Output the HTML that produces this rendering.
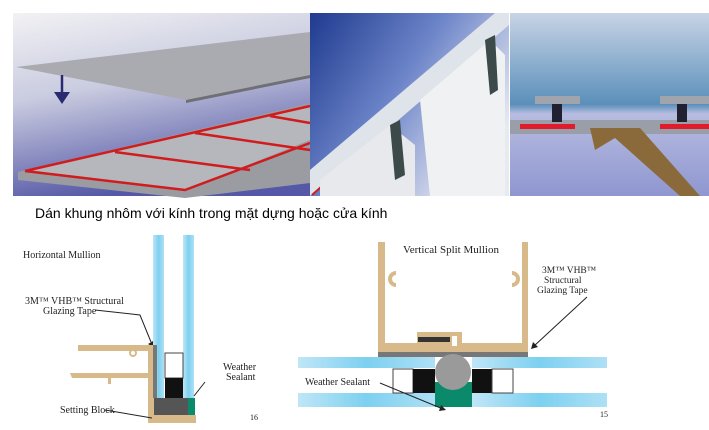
<!DOCTYPE html>
<html><head><meta charset="utf-8"><style>
body{margin:0;background:#fff;width:709px;height:425px;overflow:hidden;font-family:"Liberation Serif",serif}
</style></head><body>
<svg width="709" height="425" viewBox="0 0 709 425" xmlns="http://www.w3.org/2000/svg">
<defs>
<linearGradient id="bg1" x1="0" y1="0" x2="0.3" y2="1"><stop offset="0" stop-color="#f2f2f4"/><stop offset="0.45" stop-color="#c9cbe0"/><stop offset="1" stop-color="#5558a6"/></linearGradient>
<linearGradient id="bg2" x1="0" y1="0" x2="1" y2="0.6"><stop offset="0" stop-color="#1f3a8f"/><stop offset="0.5" stop-color="#6c84c8"/><stop offset="1" stop-color="#e8eaf2"/></linearGradient>
<linearGradient id="bg3" x1="0" y1="0" x2="0" y2="1"><stop offset="0" stop-color="#c8d4e6"/><stop offset="0.5" stop-color="#5b8fba"/><stop offset="0.55" stop-color="#b7bde0"/><stop offset="1" stop-color="#8f96d0"/></linearGradient>
<linearGradient id="gl" x1="0" y1="0" x2="1" y2="0"><stop offset="0" stop-color="#bfe6f7"/><stop offset="0.5" stop-color="#7dd0f0"/><stop offset="1" stop-color="#aee0f5"/></linearGradient>
</defs>
<!-- panel 1 -->
<rect x="13" y="13" width="297" height="183" fill="url(#bg1)"/>
<polygon points="16,67 310,32 310,75 186,100" fill="#a9abb0"/>
<polygon points="186,100 310,75 310,78 186,103" fill="#6f7075"/>
<polygon points="18,172 310,103 310,183 185,198 18,180" fill="#9a9ca2"/>
<polygon points="25,171 310,106 310,140 185,190" fill="#b5b7bc"/>
<polyline points="25,171 185,190 310,143" fill="none" stroke="#d01c1c" stroke-width="2.5"/>
<line x1="25" y1="171" x2="310" y2="106" stroke="#d01c1c" stroke-width="2.5"/>
<line x1="115" y1="152" x2="250" y2="170" stroke="#d01c1c" stroke-width="2.5"/>
<line x1="195" y1="133" x2="310" y2="150" stroke="#d01c1c" stroke-width="2.5"/>
<line x1="270" y1="116" x2="310" y2="123" stroke="#d01c1c" stroke-width="2.5"/>
<line x1="62" y1="75" x2="62" y2="96" stroke="#2a2a70" stroke-width="2.5"/>
<polygon points="54,92 70,92 62,104" fill="#2a2a70"/>
<!-- panel 2 -->
<rect x="310" y="13" width="199" height="183" fill="url(#bg2)"/>
<polygon points="310,170 495,13 509,13 509,25 310,196" fill="#dfe3ea"/>
<polyline points="312,195 340,170 M390,130 420,105 M480,50 509,25" stroke="#d01c1c" stroke-width="2" fill="none"/>
<polygon points="320,180 390,125 415,145 415,196 320,196" fill="#e8e9ec"/>
<polygon points="390,125 400,120 405,175 395,180" fill="#3c4a4a"/>
<polygon points="420,100 490,40 505,55 505,196 430,196" fill="#f0f1f3"/>
<polygon points="485,40 495,35 498,90 490,95" fill="#3c4a4a"/>
<!-- panel 3 -->
<rect x="510" y="13" width="199" height="183" fill="url(#bg3)"/>
<rect x="510" y="120" width="199" height="14" fill="#9a9ea8"/>
<rect x="520" y="124" width="55" height="5" fill="#e01c2c"/>
<rect x="660" y="124" width="49" height="5" fill="#e01c2c"/>
<rect x="535" y="96" width="45" height="8" fill="#a0a4ac"/><rect x="552" y="104" width="10" height="18" fill="#202030"/>
<rect x="660" y="96" width="49" height="8" fill="#a0a4ac"/><rect x="677" y="104" width="10" height="18" fill="#202030"/>
<polygon points="590,128 640,128 700,196 680,196 615,138 595,150" fill="#8a6a3a"/>
<!-- caption -->
<text x="35" y="218" font-family="Liberation Sans,sans-serif" font-size="14" fill="#000">Dán khung nhôm với kính trong mặt dựng hoặc cửa kính</text>
<!-- bottom left -->
<text x="23" y="258" font-size="10" fill="#222">Horizontal Mullion</text>
<text x="25" y="304" font-size="10" fill="#222">3M™ VHB™ Structural</text>
<text x="43" y="314" font-size="10" fill="#222">Glazing Tape</text>
<path d="M95,310 L140,315 L151,342" stroke="#222" fill="none"/>
<polygon points="148,344 153,341 153,347" fill="#222"/>
<path d="M78,345 L150,345 L150,351 L78,351 Z" fill="#d8b98a"/>
<path d="M70,373 L150,373 L150,378 L72,378 Z" fill="#d8b98a"/>
<rect x="108" y="376" width="3" height="8" fill="#d8b98a"/>
<circle cx="133" cy="353" r="3" fill="none" stroke="#d8b98a" stroke-width="2"/>
<rect x="148" y="345" width="6" height="78" fill="#d8b98a"/>
<rect x="148" y="415" width="48" height="8" fill="#d8b98a"/>
<rect x="153" y="235" width="11" height="163" fill="url(#gl)"/>
<rect x="183" y="235" width="11" height="163" fill="url(#gl)"/>
<rect x="153" y="345" width="4" height="53" fill="#777"/>
<rect x="165" y="353" width="18" height="25" fill="#fff" stroke="#444"/>
<rect x="165" y="378" width="18" height="20" fill="#111"/>
<rect x="154" y="398" width="36" height="17" fill="#555"/>
<rect x="188" y="398" width="7" height="17" fill="#0a8a6a"/>
<text x="223" y="370" font-size="10" fill="#222">Weather</text>
<text x="226" y="380" font-size="10" fill="#222">Sealant</text>
<path d="M205,382 L194,396" stroke="#222"/>
<text x="60" y="413" font-size="10" fill="#222">Setting Block</text>
<path d="M105,410 L152,418" stroke="#222"/>
<text x="250" y="420" font-size="8" fill="#222">16</text>
<!-- bottom right -->
<path d="M378,242 h7 v101 h32 v-11 h45 v11 h60 v-101 h6 v110 h-150 Z" fill="#d8b98a"/>
<rect x="452" y="336" width="5" height="10" fill="#fff"/>
<path d="M396,273 a6,6 0 1 0 0,12" stroke="#d8b98a" stroke-width="4" fill="none"/>
<path d="M512,273 a6,6 0 1 1 0,12" stroke="#d8b98a" stroke-width="4" fill="none"/>
<rect x="418" y="337" width="32" height="5" fill="#333"/>
<rect x="378" y="352" width="150" height="5" fill="#777"/>
<text x="403" y="253" font-size="11" fill="#222">Vertical Split Mullion</text>
<text x="542" y="273" font-size="9.5" fill="#222">3M™ VHB™</text>
<text x="544" y="283" font-size="9.5" fill="#222">Structural</text>
<text x="537" y="293" font-size="9.5" fill="#222">Glazing Tape</text>
<path d="M587,297 L534,346" stroke="#222"/>
<polygon points="531,349 533,342 538,347" fill="#222"/>
<rect x="298" y="357" width="137" height="11" fill="url(#gl)"/>
<rect x="472" y="357" width="135" height="11" fill="url(#gl)"/>
<rect x="298" y="393" width="137" height="14" fill="url(#gl)"/>
<rect x="472" y="393" width="135" height="14" fill="url(#gl)"/>
<rect x="393" y="369" width="20" height="24" fill="#fff" stroke="#444"/>
<rect x="413" y="369" width="22" height="24" fill="#111"/>
<rect x="472" y="369" width="20" height="24" fill="#111"/>
<rect x="492" y="369" width="21" height="24" fill="#fff" stroke="#444"/>
<rect x="435" y="382" width="37" height="25" fill="#0a8a6a"/>
<circle cx="453" cy="372" r="18" fill="#9a9a9a"/>
<text x="305" y="385" font-size="10" fill="#222">Weather Sealant</text>
<path d="M380,383 L443,409" stroke="#222"/>
<polygon points="446,410 439,411 441,405" fill="#222"/>
<text x="600" y="417" font-size="8" fill="#222">15</text>
</svg>
</body></html>
